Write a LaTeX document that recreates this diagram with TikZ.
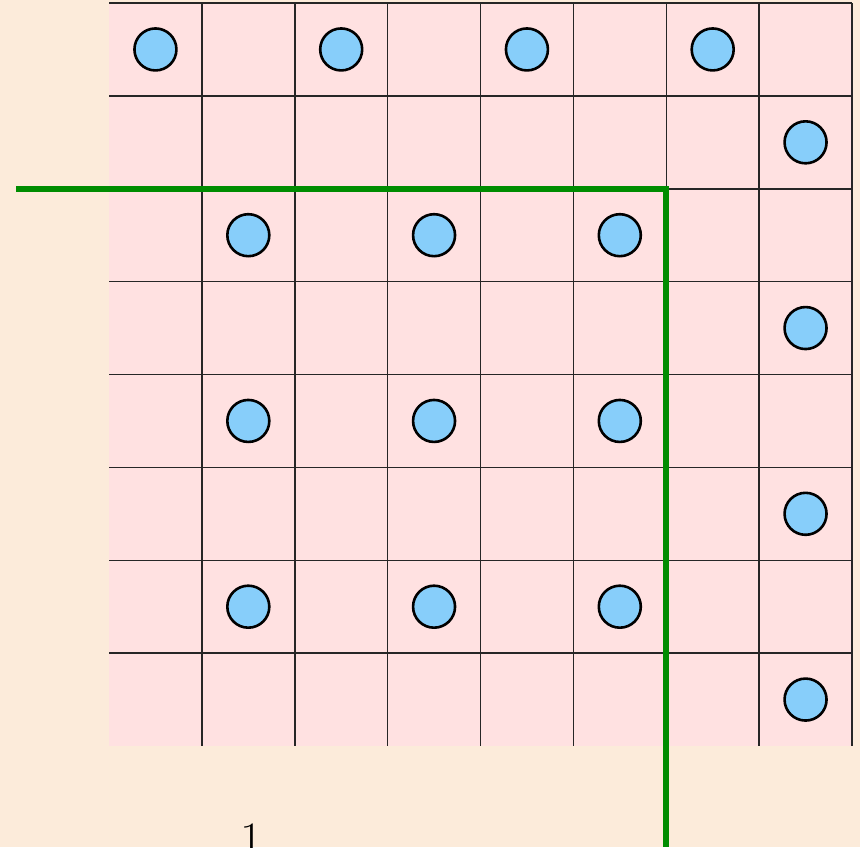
\documentclass[tikz,border=0pt]{standalone}
\usepackage{xcolor}
\definecolor{bgbeige}{RGB}{252,235,218}
\definecolor{cellpink}{RGB}{255,225,225}
\definecolor{dotblue}{RGB}{135,206,250}
\definecolor{pathgreen}{RGB}{0,140,0}
\begin{document}
\begin{tikzpicture}[x=1pt,y=-1pt,
  gridline/.style={line width=1.5pt,black!85},
  dot/.style={circle,draw=black,line width=2.6pt,fill=dotblue,minimum size=42pt,inner sep=0pt},
  greenpath/.style={pathgreen,line width=6pt},
  digit/.style={font=\fontsize{48}{56}\selectfont,inner sep=0pt}]
\fill[bgbeige] (0,0) rectangle (860,847);
\useasboundingbox (0,0) rectangle (860,847);
\def\ox{109}\def\oy{3}\def\cs{92.875}
\fill[cellpink] (\ox,\oy) rectangle (852,746);
% vertical grid lines
\foreach \i in {1,...,8} \draw[gridline] (\ox+\i*\cs,\oy) -- (\ox+\i*\cs,746);
% horizontal grid lines
\foreach \j in {0,...,7} \draw[gridline] (\ox,\oy+\j*\cs) -- (852,\oy+\j*\cs);
% circles
\foreach \c/\r [count=\k] in {0/0,2/0,4/0,6/0,7/1,1/2,3/2,5/2,7/3,1/4,3/4,5/4,7/5,1/6,3/6,5/6,7/7}
  \node[dot] (d\k) at (\ox+\c*\cs+0.5*\cs,\oy+\r*\cs+0.5*\cs) {};
% green path
\coordinate (gs) at (16,189);
\coordinate (gc) at (666,189);
\coordinate (ge) at (666,847);
\draw[greenpath] (gs) -- (gc) -- (ge);
% label
\node[digit,anchor=north] (lab) at (252,824) {1};
\end{tikzpicture}
\end{document}
